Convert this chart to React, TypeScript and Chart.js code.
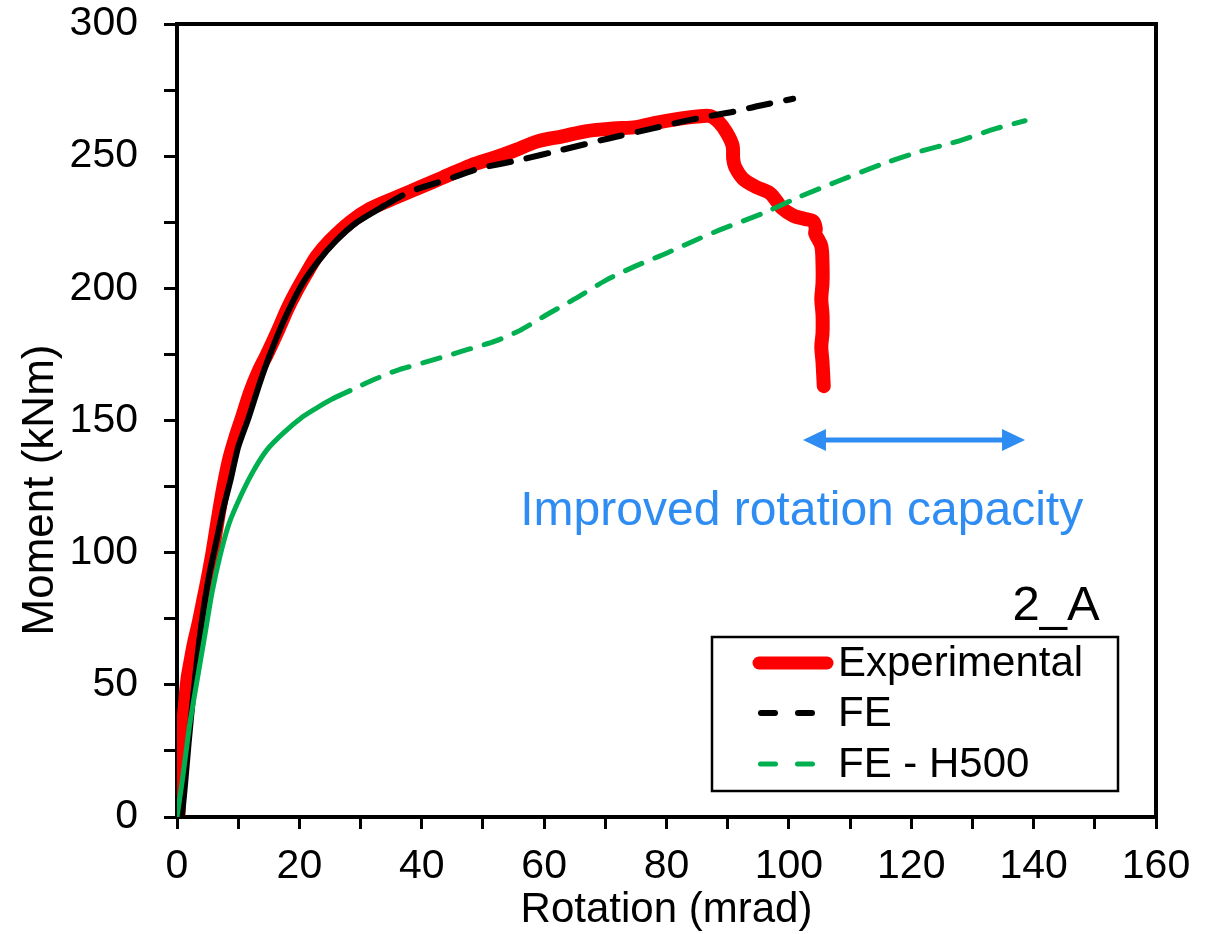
import React, { useEffect, useRef } from 'react';
import { Chart, registerables } from 'chart.js';

Chart.register(...registerables);

// ---- Data (rotation in mrad, moment in kNm) ----
const expRotation = [0.2, 0.4, 0.7, 1.2, 1.7, 2.3, 2.8, 3.5, 4.3, 5.0, 5.8, 6.7, 7.6, 8.6, 9.6, 10.6, 12.0, 13.4, 14.7, 16.5, 18.0, 19.3, 21.0, 22.8, 25.0, 28.3, 31.5, 35.9, 40.0, 43.5, 48.0, 52.0, 55.0, 58.8, 63.0, 67.0, 71.3, 75.0, 78.0, 82.2, 85.0, 87.1, 88.5, 89.8, 90.8, 90.9, 91.2, 92.5, 94.5, 96.9, 98.0, 98.8, 100.7, 102.5, 104.0, 104.4, 104.3, 105.3, 105.5, 105.5, 105.3, 105.5, 105.5, 105.3, 105.5, 105.7];
const expMoment = [0, 10, 25, 40, 52, 60, 66, 73, 82, 90, 100, 113, 125, 136, 144, 151, 161, 169, 175, 184, 192, 198, 205, 212, 218, 225, 230, 234.5, 238.5, 242, 246.5, 249.5, 252, 255.5, 257.5, 259.5, 260.5, 261, 262.5, 264.2, 265, 265.2, 263, 259, 254, 249, 246, 241.5, 238.5, 236, 233, 230.5, 227.5, 226.3, 225.3, 222.5, 220.8, 216, 209, 202, 196, 190, 183, 178, 172, 163];

const feRotation = [0.8, 1.3, 1.9, 2.6, 3.4, 4.3, 5.3, 6.5, 7.6, 8.7, 10.0, 11.7, 13.5, 15.2, 17.5, 20.3, 23.0, 26.0, 29.4, 33.7, 38.0, 44.6, 49.5, 56.1, 63.1, 70.2, 77.8, 82.0, 86.6, 90.9, 95.0, 100.7];
const feMoment = [0, 12, 28, 45, 62, 78, 92, 105, 117, 127, 140, 151, 164, 175, 188, 201, 210, 218, 225, 231, 236.5, 241.5, 245.4, 248.6, 252.5, 256.5, 260.5, 262.8, 265, 266.8, 269, 271.7];

const h500Rotation = [0, 0.8, 1.5, 2.1, 3.2, 4.6, 5.7, 7.0, 8.5, 10.6, 12.5, 14.7, 17.5, 20.6, 23.0, 25.6, 29.4, 32.0, 36.0, 42.0, 47.0, 52.0, 56.0, 60.4, 65.0, 70.2, 75.0, 80.0, 85.0, 88.7, 95.8, 101.8, 108.0, 114.9, 121.0, 127.4, 133.9, 138.6];
const h500Moment = [0, 12.7, 25, 35.4, 50.6, 69.5, 84.6, 98.5, 111, 122.4, 131, 138.9, 145.5, 151.5, 155, 158.4, 162.5, 165.3, 169, 173, 176.5, 180, 184, 190, 196, 203.2, 208.5, 213.3, 218.5, 222.1, 228.4, 234.7, 240.5, 246.7, 251.5, 255.5, 260.5, 263.4];

const seriesLabels = ['Experimental', 'FE', 'FE - H500'];
const seriesColors = ['#FF0000', '#000000', '#00B050'];

const xLimits = [0, 160];
const yLimits = [0, 300];
const xTickStep = 10;
const xLabelStep = 20;
const yTickStep = 25;
const yLabelStep = 50;

const xTitle = 'Rotation (mrad)';
const yTitle = 'Moment (kNm)';

const arrowRotation = [102.3, 138.6];
const arrowMoment = [142.6];
const noteText = 'Improved rotation capacity';
const notePosition = [102.1, 110.5];
const specimenText = '2_A';
const specimenPosition = [150.8, 74.5];

const FONT = '"Liberation Sans", Arial, sans-serif';
const NOTE_BLUE = '#2E8CF2';

const zip = (xs: number[], ys: number[]) => xs.map((x, i) => ({ x, y: ys[i] }));

const overlayPlugin = {
  id: 'overlay',
  afterDraw(chart: any) {
    const { ctx, chartArea: a, scales } = chart;
    const xs = scales.x;
    const ys = scales.y;
    ctx.save();

    // frame top/right
    ctx.strokeStyle = '#000';
    ctx.lineWidth = 4;
    ctx.lineCap = 'square';
    ctx.beginPath();
    ctx.moveTo(a.left, a.top);
    ctx.lineTo(a.right, a.top);
    ctx.lineTo(a.right, a.bottom);
    ctx.stroke();

    // y axis title (offset below plot centre as in the original)
    ctx.save();
    ctx.translate(41, 490);
    ctx.rotate(-Math.PI / 2);
    ctx.fillStyle = '#000';
    ctx.font = `44px ${FONT}`;
    ctx.textAlign = 'center';
    ctx.textBaseline = 'middle';
    ctx.fillText(yTitle, 0, 0);
    ctx.restore();

    // double arrow
    const ax1 = xs.getPixelForValue(arrowRotation[0]);
    const ax2 = xs.getPixelForValue(arrowRotation[1]);
    const ay = ys.getPixelForValue(arrowMoment[0]);
    const headL = 23;
    const headH = 11;
    ctx.strokeStyle = NOTE_BLUE;
    ctx.fillStyle = NOTE_BLUE;
    ctx.lineWidth = 5;
    ctx.lineCap = 'butt';
    ctx.beginPath();
    ctx.moveTo(ax1 + headL - 2, ay);
    ctx.lineTo(ax2 - headL + 2, ay);
    ctx.stroke();
    ctx.beginPath();
    ctx.moveTo(ax1, ay);
    ctx.lineTo(ax1 + headL, ay - headH);
    ctx.lineTo(ax1 + headL, ay + headH);
    ctx.closePath();
    ctx.fill();
    ctx.beginPath();
    ctx.moveTo(ax2, ay);
    ctx.lineTo(ax2 - headL, ay - headH);
    ctx.lineTo(ax2 - headL, ay + headH);
    ctx.closePath();
    ctx.fill();

    // note text
    ctx.font = `48px ${FONT}`;
    ctx.textAlign = 'center';
    ctx.textBaseline = 'alphabetic';
    ctx.fillText(noteText, xs.getPixelForValue(notePosition[0]), ys.getPixelForValue(notePosition[1]));

    // specimen label
    ctx.fillStyle = '#000';
    ctx.font = `49px ${FONT}`;
    ctx.textAlign = 'right';
    ctx.fillText(specimenText, xs.getPixelForValue(specimenPosition[0]), ys.getPixelForValue(specimenPosition[1]));

    // legend
    const bw = 406;
    const bh = 154;
    const bx = a.right - 38 - bw;
    const by = a.bottom - 26 - bh;
    ctx.fillStyle = '#fff';
    ctx.fillRect(bx, by, bw, bh);
    ctx.strokeStyle = '#000';
    ctx.lineWidth = 2.5;
    ctx.strokeRect(bx, by, bw, bh);

    const rowY = [by + 26, by + 76, by + 127];
    const sx1 = bx + 41;
    const sx2 = bx + 121;
    ctx.lineCap = 'round';
    // Experimental
    ctx.strokeStyle = seriesColors[0];
    ctx.lineWidth = 13;
    ctx.setLineDash([]);
    ctx.beginPath();
    ctx.moveTo(sx1 + 6, rowY[0]);
    ctx.lineTo(sx2 - 6, rowY[0]);
    ctx.stroke();
    // FE
    ctx.strokeStyle = seriesColors[1];
    ctx.lineWidth = 6;
    ctx.setLineDash([14, 23]);
    ctx.beginPath();
    ctx.moveTo(bx + 49, rowY[1]);
    ctx.lineTo(bx + 100, rowY[1]);
    ctx.stroke();
    // FE - H500
    ctx.strokeStyle = seriesColors[2];
    ctx.lineWidth = 5;
    ctx.setLineDash([15, 22]);
    ctx.beginPath();
    ctx.moveTo(bx + 48.5, rowY[2]);
    ctx.lineTo(bx + 100.5, rowY[2]);
    ctx.stroke();
    ctx.setLineDash([]);

    ctx.fillStyle = '#000';
    ctx.font = `42px ${FONT}`;
    ctx.textAlign = 'left';
    ctx.textBaseline = 'middle';
    seriesLabels.forEach((t, i) => ctx.fillText(t, bx + 126, rowY[i] + 1));

    ctx.restore();
  },
};

export default function App() {
  const canvasRef = useRef<HTMLCanvasElement | null>(null);

  useEffect(() => {
    const canvas = canvasRef.current;
    if (!canvas) return;
    const chart = new Chart(canvas, {
      type: 'scatter',
      data: {
        datasets: [
          {
            label: seriesLabels[0],
            data: zip(expRotation, expMoment),
            showLine: true,
            borderColor: seriesColors[0],
            backgroundColor: seriesColors[0],
            borderWidth: 14,
            borderCapStyle: 'round',
            borderJoinStyle: 'round',
            pointRadius: 0,
            tension: 0.3,
            order: 3,
          },
          {
            label: seriesLabels[1],
            data: zip(feRotation, feMoment),
            showLine: true,
            borderColor: seriesColors[1],
            backgroundColor: seriesColors[1],
            borderWidth: 6,
            borderCapStyle: 'round',
            borderJoinStyle: 'round',
            pointRadius: 0,
            tension: 0.2,
            segment: {
              borderDash: (c: any) => (c.p0.parsed.x >= 31 ? [22, 16] : []),
            },
            order: 2,
          },
          {
            label: seriesLabels[2],
            data: zip(h500Rotation, h500Moment),
            showLine: true,
            borderColor: seriesColors[2],
            backgroundColor: seriesColors[2],
            borderWidth: 5,
            borderCapStyle: 'round',
            borderJoinStyle: 'round',
            pointRadius: 0,
            tension: 0.2,
            segment: {
              borderDash: (c: any) => (c.p0.parsed.x >= 25.6 ? [18, 14] : []),
            },
            order: 1,
          },
        ],
      },
      options: {
        responsive: false,
        animation: false,
        devicePixelRatio: 1,
        layout: { padding: { top: 0, right: 55, left: 0, bottom: 0 } },
        plugins: {
          legend: { display: false },
          tooltip: { enabled: false },
        },
        scales: {
          x: {
            type: 'linear',
            min: xLimits[0],
            max: xLimits[1],
            z: 1,
            afterFit: (s: any) => { s.height = 117; },
            border: { display: true, color: '#000', width: 4 },
            grid: { drawOnChartArea: false, drawTicks: true, tickLength: 12, tickWidth: 3, tickColor: '#000' },
            ticks: {
              stepSize: xTickStep,
              autoSkip: false,
              maxRotation: 0,
              padding: 13,
              color: '#000',
              font: { family: FONT, size: 41 },
              callback: (v: any) => (Number(v) % xLabelStep === 0 ? String(v) : ''),
            },
            title: {
              display: true,
              text: xTitle,
              color: '#000',
              font: { family: FONT, size: 42 },
              padding: { top: 0, bottom: -2 },
            },
          },
          y: {
            type: 'linear',
            min: yLimits[0],
            max: yLimits[1],
            z: 1,
            afterFit: (s: any) => { s.width = 177; s.paddingTop = 24; s.paddingBottom = 0; },
            border: { display: true, color: '#000', width: 4 },
            grid: { drawOnChartArea: false, drawTicks: true, tickLength: 13, tickWidth: 3, tickColor: '#000' },
            ticks: {
              stepSize: yTickStep,
              autoSkip: false,
              padding: 26,
              color: '#000',
              font: { family: FONT, size: 41 },
              callback: (v: any) => (Number(v) % yLabelStep === 0 ? String(v) : ''),
            },
            title: { display: false },
          },
        },
      },
      plugins: [overlayPlugin],
    });
    return () => chart.destroy();
  }, []);

  return (
    <div style={{ position: 'absolute', left: 0, top: 0, width: 1211, height: 934, background: '#fff' }}>
      <canvas ref={canvasRef} width={1211} height={934} style={{ display: 'block' }} />
    </div>
  );
}
